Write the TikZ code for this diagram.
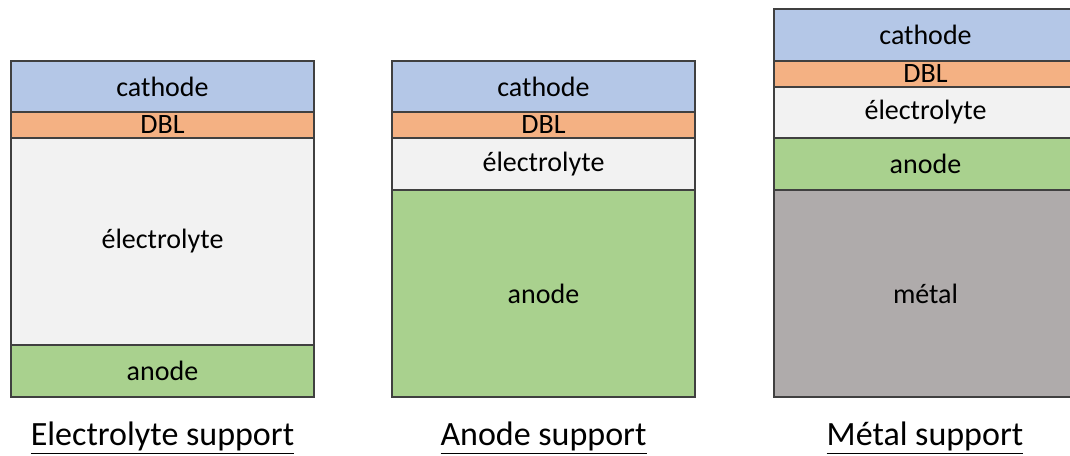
\documentclass[tikz,border=0pt]{standalone}
\usepackage{fontspec}
\setmainfont{Carlito}
\usepackage{tikz}
\usetikzlibrary{positioning}
\definecolor{cathodec}{HTML}{B4C7E7}
\definecolor{dblc}{HTML}{F4B183}
\definecolor{electc}{HTML}{F2F2F2}
\definecolor{anodec}{HTML}{A9D18E}
\definecolor{metalc}{HTML}{AFABAB}
\definecolor{edgec}{HTML}{404040}
\tikzset{
  layer/.style={draw=edgec, line width=0.9pt, minimum width=227.25pt, inner sep=0pt,
    outer sep=0pt, font=\fontsize{21}{25}\selectfont, text=black},
  h/.style={minimum height=#1*0.75pt},
  caption/.style={font=\fontsize{25.5}{30}\selectfont, text=black}
}

\begin{document}
\begin{tikzpicture}[x=0.75pt,y=-0.75pt]
\useasboundingbox (0,0) rectangle (1070,455);
\begin{scope}
\clip (0,0) rectangle (1070,455);
% Electrolyte support
\node[layer, h=51, fill=cathodec, anchor=north west] (c1) at (11,61) {cathode};
\node[layer, h=26, fill=dblc, below=0pt of c1] (d1) {DBL};
\node[layer, h=207, fill=electc, below=0pt of d1] (e1) {électrolyte};
\node[layer, h=52, fill=anodec, below=0pt of e1] (a1) {anode};
% Anode support
\node[layer, h=51, fill=cathodec, anchor=north west] (c2) at (392,61) {cathode};
\node[layer, h=26, fill=dblc, below=0pt of c2] (d2) {DBL};
\node[layer, h=52, fill=electc, below=0pt of d2] (e2) {électrolyte};
\node[layer, h=207, fill=anodec, below=0pt of e2] (a2) {anode};
% Metal support
\node[layer, h=52, fill=cathodec, anchor=north west] (c3) at (774,9) {cathode};
\node[layer, h=26, fill=dblc, below=0pt of c3] (d3) {DBL};
\node[layer, h=51, fill=electc, below=0pt of d3] (e3) {électrolyte};
\node[layer, h=52, fill=anodec, below=0pt of e3] (a3) {anode};
\node[layer, h=207, fill=metalc, below=0pt of a3] (m3) {métal};
\end{scope}

\node[caption] (t1) at (162.5,438) {\underline{Electrolyte support}};
\node[caption] (t2) at (543.5,438) {\underline{Anode support}};
\node[caption] (t3) at (925,438) {\underline{Métal support}};
\end{tikzpicture}
\end{document}
